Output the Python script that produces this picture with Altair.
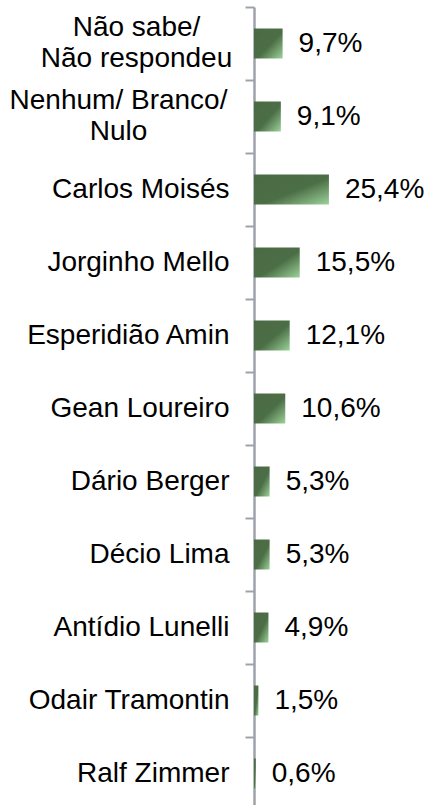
import altair as alt
import pandas as pd

categories = [
    "Não sabe/\nNão respondeu",
    "Nenhum/ Branco/\nNulo",
    "Carlos Moisés",
    "Jorginho Mello",
    "Esperidião Amin",
    "Gean Loureiro",
    "Dário Berger",
    "Décio Lima",
    "Antídio Lunelli",
    "Odair Tramontin",
    "Ralf Zimmer",
]
values = [9.7, 9.1, 25.4, 15.5, 12.1, 10.6, 5.3, 5.3, 4.9, 1.5, 0.6]

df = pd.DataFrame({"cat": categories, "v": values})

FONT = "Liberation Sans"
AXIS_GRAY = "#9EA2AA"

gradient = alt.Gradient(
    gradient="linear",
    stops=[
        alt.GradientStop(color="#4A6A44", offset=0),
        alt.GradientStop(color="#4C6E46", offset=0.55),
        alt.GradientStop(color="#9CD39A", offset=1),
    ],
    x1=0, y1=0, x2=1, y2=1,
)

multi = "indexof(datum.value, '\\n') >= 0"

y_enc = alt.Y(
    "cat:N",
    sort=None,
    title=None,
    scale=alt.Scale(paddingInner=0, paddingOuter=0),
    axis=alt.Axis(
        bandPosition=0,
        labelExpr="split(datum.label, '\\n')",
        labelFont=FONT,
        labelFontSize=28,
        labelColor="#000000",
        labelLineHeight=31,
        labelAlign={
            "condition": {"test": multi, "value": "center"},
            "value": "right",
        },
        labelOffset={
            "condition": {"test": multi, "value": -16},
            "value": 0,
        },
        labelPadding={
            "condition": [
                {"test": "indexof(datum.value, 'Não sabe') == 0", "value": 109},
                {"test": "indexof(datum.value, 'Nenhum') == 0", "value": 127},
            ],
            "value": 16,
        },
        labelLimit=0,
        domainColor=AXIS_GRAY,
        domainWidth=2.5,
        tickColor=AXIS_GRAY,
        tickWidth=2,
        tickSize=9,
        grid=False,
    ),
)

x_enc = alt.X("v:Q", scale=alt.Scale(domain=[0, 60]), axis=None)

bars = alt.Chart(df).mark_bar(size=30, color=gradient).encode(x=x_enc, y=y_enc)

text = (
    alt.Chart(df)
    .transform_calculate(lbl="replace(format(datum.v, '.1f'), '.', ',') + '%'")
    .mark_text(align="left", baseline="middle", dx=16, font=FONT, fontSize=28, color="#000000")
    .encode(x=x_enc, y=alt.Y("cat:N", sort=None), text="lbl:N")
)

chart = (
    alt.layer(bars, text)
    .properties(
        width=177,
        height=803,
        autosize=alt.AutoSizeParams(type="none"),
        padding={"left": 254, "top": 7, "right": 0, "bottom": 0},
        background="#ffffff",
    )
    .configure_view(stroke=None)
)

chart.save("out.html", embed_options={"renderer": "svg", "actions": False})
